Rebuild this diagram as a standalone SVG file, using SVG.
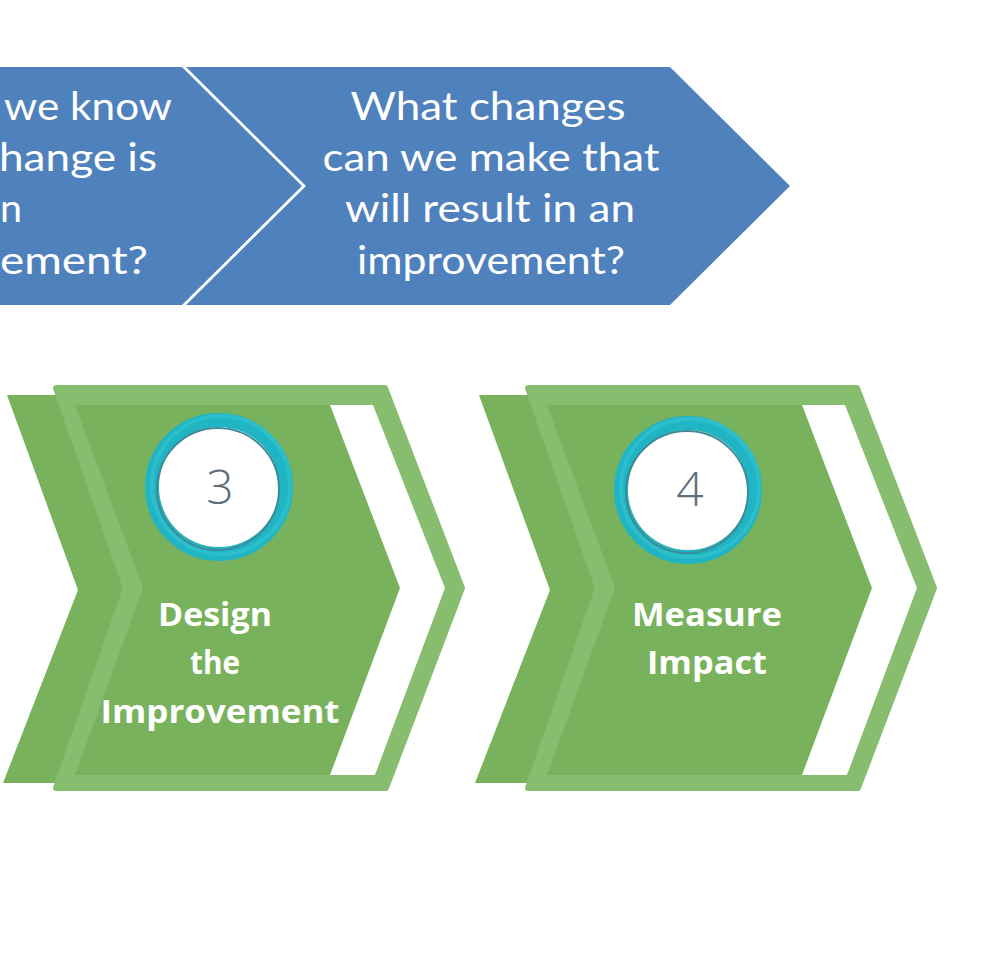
<svg xmlns="http://www.w3.org/2000/svg" xmlns:xlink="http://www.w3.org/1999/xlink" width="1000" height="973" viewBox="0 0 1000 973">
<style>
.blue{fill:#4F81BD}
.q{font-family:Lato,"Open Sans",sans-serif;font-size:39px;fill:#ffffff}
.qc{text-anchor:middle}
.qe{text-anchor:end}
.back{fill:#79B25C}
.rim{fill:#86BD6E;stroke:#86BD6E;stroke-width:6;stroke-linejoin:round}
.inner{fill:#79B25C}
.stripe{fill:#ffffff}
.lbl{font-family:"Open Sans",sans-serif;font-weight:700;font-size:33px;fill:#ffffff;text-anchor:middle}
.num{font-family:"Open Sans",sans-serif;font-weight:300;font-size:48px;fill:#5F6E7B;text-anchor:middle}
.ring{fill:none;stroke:#1FB5C4;stroke-width:14}
.ring2{fill:none;stroke:#2FC0CC;stroke-width:4;opacity:0.8}
.ringline{fill:none;stroke:#3F8A99;stroke-width:2}
.disc{fill:#ffffff}
</style>
<defs>
<g id="chev">
<polygon class="back" points="7,395 380,395 450,588 380,783 3,783 78,590"/>
<polygon class="rim" points="56,388 385,388 462,588 386,788 56,788 126,588"/>
<polygon class="inner" points="75,405 373,405 445,588 375,775 75,775 143,588"/>
<polygon class="stripe" points="330,405 373,405 445,588 375,775 330,775 400,588"/>
</g>
</defs>
<rect width="1000" height="973" fill="#ffffff"/>

<g id="node-know">
<polygon class="blue" points="0,67 182,67 302,186 182,305 0,305"/>
<text class="q qe" x="172" y="120" textLength="168" lengthAdjust="spacingAndGlyphs">we know</text>
<text class="q qe" x="157" y="171" textLength="158" lengthAdjust="spacingAndGlyphs">hange is</text>
<text class="q qe" x="22" y="222" textLength="22" lengthAdjust="spacingAndGlyphs">n</text>
<text class="q qe" x="148" y="274" textLength="148" lengthAdjust="spacingAndGlyphs">ement?</text>
</g>

<g id="node-changes">
<polygon class="blue" points="186,67 670,67 790,186 670,305 186,305 306,186"/>
<text class="q qc" x="488" y="120" textLength="275" lengthAdjust="spacingAndGlyphs">What changes</text>
<text class="q qc" x="491" y="171" textLength="337" lengthAdjust="spacingAndGlyphs">can we make that</text>
<text class="q qc" x="490" y="222" textLength="290" lengthAdjust="spacingAndGlyphs">will result in an</text>
<text class="q qc" x="491" y="274" textLength="268" lengthAdjust="spacingAndGlyphs">improvement?</text>
</g>

<g id="node-design">
<use xlink:href="#chev" href="#chev"/>
<circle class="ring" cx="219" cy="487" r="67"/>
<circle class="ring2" cx="221" cy="485" r="69"/>
<circle class="disc" cx="219" cy="487" r="60"/>
<circle class="ringline" cx="218" cy="489" r="61"/>
<text class="num" x="220" y="504">3</text>
<text class="lbl" x="215" y="626" textLength="114" lengthAdjust="spacingAndGlyphs">Design</text>
<text class="lbl" x="215" y="674" textLength="50" lengthAdjust="spacingAndGlyphs">the</text>
<text class="lbl" x="220" y="723" textLength="239" lengthAdjust="spacingAndGlyphs">Improvement</text>
</g>

<g id="node-measure">
<use xlink:href="#chev" href="#chev" transform="translate(472,0)"/>
<circle class="ring" cx="688" cy="490" r="67"/>
<circle class="ring2" cx="690" cy="488" r="69"/>
<circle class="disc" cx="688" cy="490" r="60"/>
<circle class="ringline" cx="687" cy="492" r="61"/>
<text class="num" x="690" y="506">4</text>
<text class="lbl" x="707" y="626" textLength="150" lengthAdjust="spacingAndGlyphs">Measure</text>
<text class="lbl" x="707" y="674" textLength="120" lengthAdjust="spacingAndGlyphs">Impact</text>
</g>

<g id="connectors"/>
</svg>
